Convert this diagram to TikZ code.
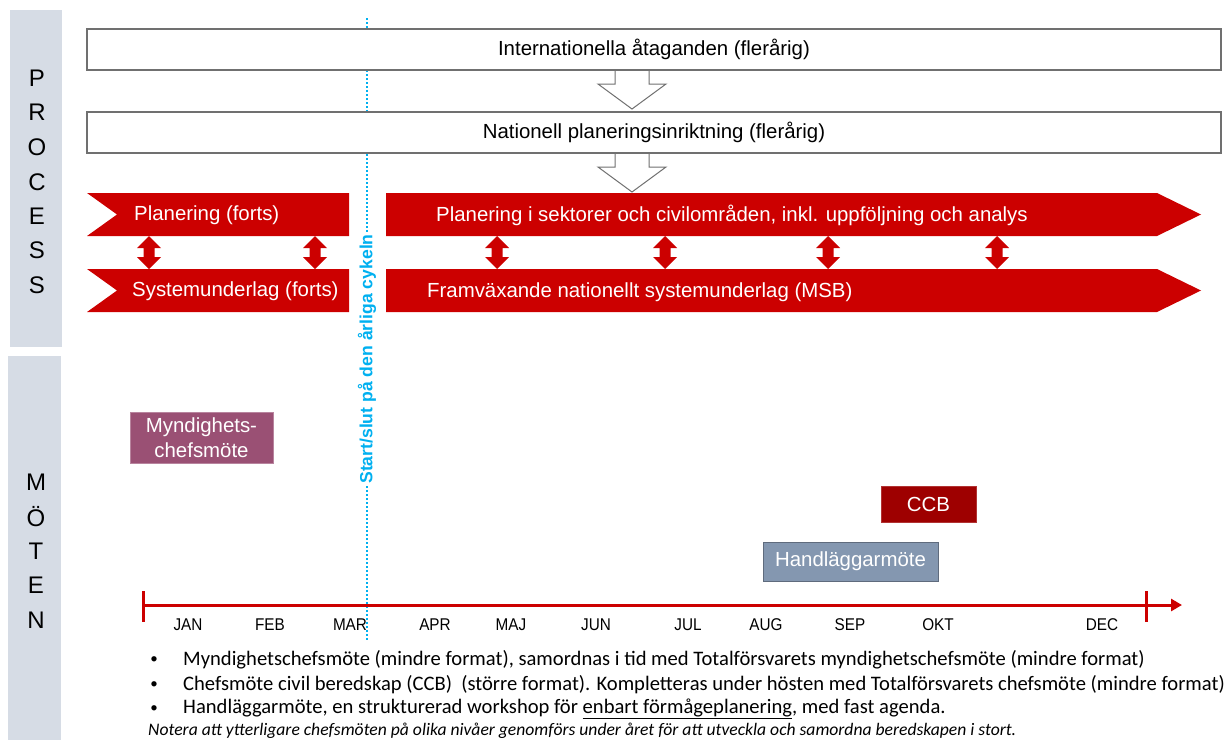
\documentclass[tikz,border=0pt]{standalone}
\usepackage{fontspec}
\usetikzlibrary{arrows.meta}
\setmainfont{Liberation Sans}
\newfontfamily\narrowf{Liberation Sans}
\newfontfamily\monthf{Liberation Sans}[FakeStretch=0.9]
\newfontfamily\bulletf{Carlito}
\definecolor{panel}{HTML}{D6DCE5}
\definecolor{bandred}{HTML}{CC0000}
\definecolor{cyc}{HTML}{00B0F0}
\definecolor{mauve}{HTML}{9A5074}
\definecolor{ccbred}{HTML}{9E0000}
\definecolor{hfill}{HTML}{8497B0}
\definecolor{hdraw}{HTML}{5F6B7D}
\definecolor{boxgrey}{HTML}{707070}
\definecolor{tlred}{HTML}{CC0000}
\tikzset{
  panelbox/.style={fill=panel,draw=none},
  vletter/.style={font=\fontsize{24}{24}\selectfont,text=black,inner sep=0pt},
  topbox/.style={draw=boxgrey,line width=1.3pt,fill=white,minimum width=1134pt,minimum height=41pt,inner sep=0pt,font=\narrowf\fontsize{20.4}{22}\selectfont},
  hollow/.style={draw=boxgrey,line width=1pt,fill=white},
  band/.style={fill=bandred,draw=none},
  bandtxt/.style={text=white,anchor=west,inner sep=0pt,font=\narrowf\fontsize{20.4}{22}\selectfont},
  dbl/.style={fill=bandred,draw=none},
  meet/.style={text=white,inner sep=0pt,align=center,font=\narrowf\fontsize{20.4}{25}\selectfont},
  month/.style={inner sep=0pt,font=\monthf\fontsize{17}{17}\selectfont},
  bul/.style={anchor=west,inner sep=0pt,font=\bulletf\fontsize{20.6}{21}\selectfont},
  dot/.style={inner sep=0pt,font=\bulletf\fontsize{15}{15}\selectfont},
}
\begin{document}
\begin{tikzpicture}[x=1pt,y=-1pt]
\useasboundingbox (0,0) rectangle (1226,742);
% side panels
\fill[panelbox] (10,10) rectangle (62,347);
\fill[panelbox] (8,356) rectangle (61,740);
\foreach \l/\y [count=\i] in {P/78,R/112,O/147,C/182,E/216,S/250,S/285}
  \node[vletter] (p\i) at (37,\y) {\l};
\foreach \l/\y [count=\i] in {M/482,Ö/517,T/551,E/585,N/620}
  \node[vletter] (m\i) at (36,\y) {\l};
% cycle line
\coordinate (cyctop) at (367,18);
\coordinate (cycbot) at (367,640);
\draw[cyc,line width=2pt,dash pattern=on 2pt off 2pt] (cyctop) -- (cycbot);
% top boxes
\node[topbox] (intl) at (654,49.5) {Internationella åtaganden (flerårig)};
\node[topbox] (nat) at (654,132.5) {Nationell planeringsinriktning (flerårig)};
\draw[hollow] (615,71) -- (615,84) -- (598,84) -- (632,109) -- (666,84) -- (649,84) -- (649,71);
\draw[hollow] (615,154) -- (615,167) -- (598,167) -- (632,192) -- (666,167) -- (649,167) -- (649,154);
% bands
\fill[band] (87,193) -- (349,193) -- (349,236) -- (87,236) -- (117,214.5) -- cycle;
\fill[band] (87,269) -- (349,269) -- (349,312) -- (87,312) -- (117,290.5) -- cycle;
\fill[band] (386,193) -- (1157,193) -- (1201,214.5) -- (1157,236) -- (386,236) -- cycle;
\fill[band] (386,269) -- (1157,269) -- (1201,290.5) -- (1157,312) -- (386,312) -- cycle;
\node[bandtxt] (b1) at (134,215) {Planering (forts)};
\node[bandtxt] (b2) at (132,291) {Systemunderlag (forts)};
\node[bandtxt] (b3) at (436,215) {Planering i sektorer och civilområden, inkl. uppföljning och analys};
\node[bandtxt] (b4) at (427,292) {Framväxande nationellt systemunderlag (MSB)};
% double arrows
\foreach \x in {149,315,497,665,828,997}
  \fill[dbl] (\x,236) -- (\x+12,248) -- (\x+5.5,248) -- (\x+5.5,257) -- (\x+12,257) -- (\x,269)
     -- (\x-12,257) -- (\x-5.5,257) -- (\x-5.5,248) -- (\x-12,248) -- cycle;
% cycle label
\node[rotate=90,fill=white,inner sep=1pt,text=cyc,font=\narrowf\bfseries\fontsize{17.6}{18}\selectfont] (cyc) at (367,359) {Start/slut på den årliga cykeln};
% meetings
\node[fill=mauve,draw=mauve!70!white,minimum width=143pt,minimum height=51pt,meet] (myn) at (201.5,437.5) {Myndighets-\\chefsmöte};
\node[fill=ccbred,draw=ccbred!80!white,minimum width=95pt,minimum height=36pt,meet] (ccb) at (928.5,504) {CCB};
\node[fill=hfill,draw=hdraw,line width=1pt,minimum width=175pt,minimum height=39pt,meet] (hand) at (850.5,561.5) {Handläggarmöte};
% timeline
\coordinate (tl0) at (143,605);
\coordinate (tl1) at (1182,605);
\coordinate (tlend) at (1146,605);
\draw[tlred,line width=3pt,-{Triangle[length=11pt,width=12pt]}] (tl0) -- (tl1);
\draw[tlred,line width=3pt] (143,591) -- (143,622);
\draw[tlred,line width=3pt] (tlend) ++(0,-14) -- ++(0,31);
\foreach \m/\x in {JAN/188,FEB/270,MAR/350,APR/435,MAJ/511,JUN/596,JUL/688,AUG/766,SEP/850,OKT/938,DEC/1102}
  \node[month] (mo\m) at (\x,625) {\m};
% bullets
\node[dot] (d1) at (154,660) {•};
\node[dot] (d2) at (154,685) {•};
\node[dot] (d3) at (154,709) {•};
\node[bul] (t1) at (183,660) {Myndighetschefsmöte (mindre format), samordnas i tid med Totalförsvarets myndighetschefsmöte (mindre format)};
\node[bul] (t2) at (183,685) {Chefsmöte civil beredskap (CCB)\ \ (större format). Kompletteras under hösten med Totalförsvarets chefsmöte (mindre format)};
\node[bul] (t3) at (183,709) {Handläggarmöte, en strukturerad workshop för \underline{enbart förmågeplanering}, med fast agenda.};
\node[bul,font=\bulletf\itshape\fontsize{17.6}{18}\selectfont] (note) at (148,731) {Notera att ytterligare chefsmöten på olika nivåer genomförs under året för att utveckla och samordna beredskapen i stort.};
\end{tikzpicture}
\end{document}
